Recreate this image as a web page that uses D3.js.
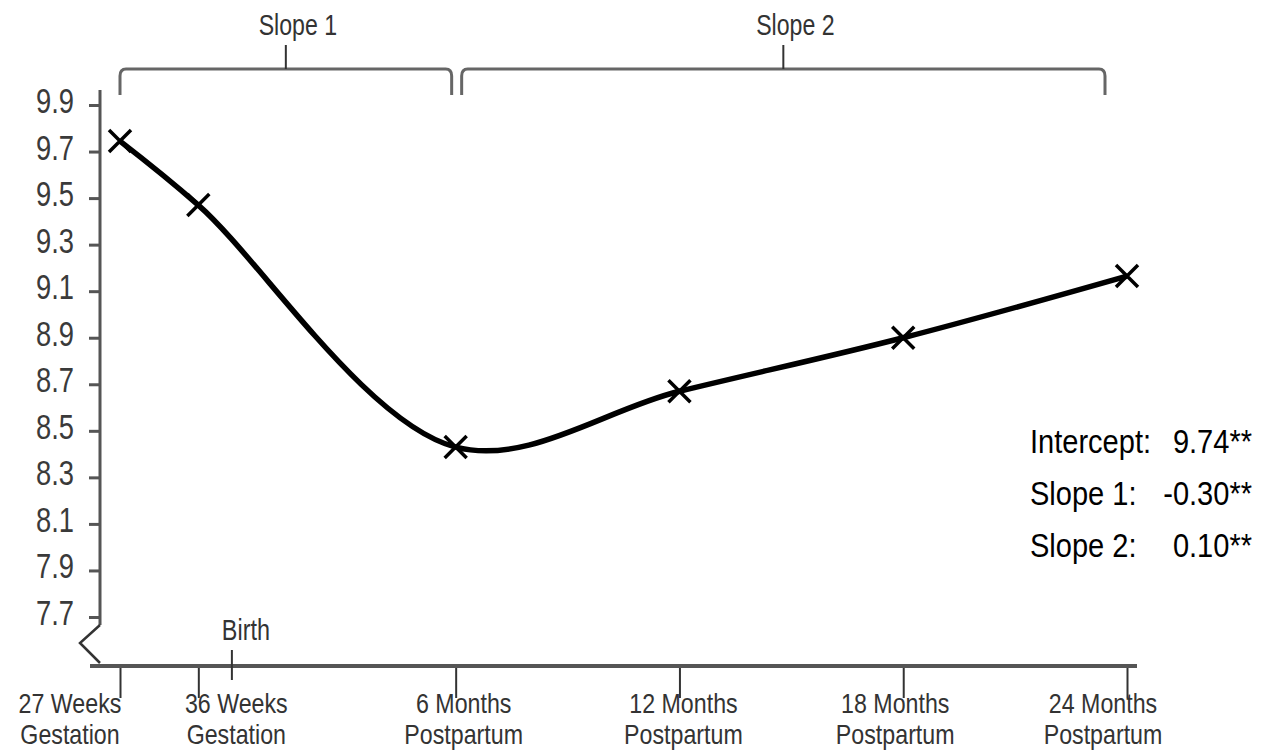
<!DOCTYPE html>
<html lang="en">
  <head>
    <meta charset="UTF-8" />
    <title>Slopes</title>
    <script src="https://d3js.org/d3.v7.min.js"></script>
    <style>
      body { margin: 0; background: #fff; }
      text { font-family: "Liberation Sans", Arial, sans-serif; }
    </style>
  </head>
  <body>

    <svg width="1261" height="753"></svg>

<script>

// data: months relative to birth
var occasions = ["27 Weeks|Gestation", "36 Weeks|Gestation", "6 Months|Postpartum",
                 "12 Months|Postpartum", "18 Months|Postpartum", "24 Months|Postpartum"];
var months = [-3, -0.9, 6, 12, 18, 24];
var values = [9.745, 9.47, 8.43, 8.67, 8.90, 9.165];
var yTicks = [7.7, 7.9, 8.1, 8.3, 8.5, 8.7, 8.9, 9.1, 9.3, 9.5, 9.7, 9.9];
var birth = 0;
var slopes = [["Slope 1", -3, 6], ["Slope 2", 6, 24]];
var stats = [["Intercept:", "9.74**"], ["Slope 1:", "-0.30**"], ["Slope 2:", "0.10**"]];

var svg = d3.select("svg");

var x = d3.scaleLinear().domain([-3, 24]).range([120, 1127]),
    y = d3.scaleLinear().domain([7.7, 9.9]).range([617, 105]);

var axisColor = "#555";

// y axis
var gy = svg.append("g").attr("transform", "translate(100,0)")
    .call(d3.axisLeft(y).tickValues(yTicks).tickSize(11).tickFormat(""));
gy.select(".domain").remove();
gy.selectAll(".tick line").attr("stroke", axisColor).attr("stroke-width", 3);

svg.append("line")
   .attr("x1", 100).attr("x2", 100)
   .attr("y1", y(9.9) - 15).attr("y2", y(7.7) + 8)
   .attr("stroke", axisColor).attr("stroke-width", 3);

svg.selectAll(".ylab")
   .data(yTicks)
   .enter().append("text")
   .attr("class", "ylab")
   .attr("transform", function(d) { return "translate(74," + (y(d) + 8) + ") scale(0.76,1)"; })
   .attr("text-anchor", "end")
   .attr("font-size", "36px")
   .attr("fill", "#3a3a3a")
   .text(function(d) { return d.toFixed(1); });

// axis break
svg.append("path")
   .attr("d", "M100," + (y(7.7) + 8) + "L80,643L100,663")
   .attr("fill", "none").attr("stroke", "#333").attr("stroke-width", 2.5);

// x axis
var gx = svg.append("g").attr("transform", "translate(0,666)")
    .call(d3.axisBottom(x).tickValues(months).tickSize(32).tickFormat(""));
gx.select(".domain").remove();
gx.selectAll(".tick line").attr("stroke", "#333").attr("stroke-width", 2);

svg.append("line")
   .attr("x1", 90).attr("x2", x(24) + 10)
   .attr("y1", 666).attr("y2", 666)
   .attr("stroke", axisColor).attr("stroke-width", 4);

var labelShift = [-50, 38, 8, 4, -8, -24];

var xl = svg.selectAll(".xlab")
   .data(occasions)
   .enter().append("text")
   .attr("class", "xlab")
   .attr("transform", function(d, i) {
       return "translate(" + (x(months[i]) + labelShift[i]) + ",713) scale(0.86,1)";
   })
   .attr("text-anchor", "middle").attr("font-size", "27px").attr("fill", "#333");

xl.append("tspan")
  .attr("x", 0).attr("dy", 0)
  .text(function(d) { return d.split("|")[0]; });
xl.append("tspan")
  .attr("x", 0).attr("dy", 31)
  .text(function(d) { return d.split("|")[1]; });

// birth marker
svg.append("line")
   .attr("x1", x(birth)).attr("x2", x(birth))
   .attr("y1", 650).attr("y2", 680)
   .attr("stroke", "#333").attr("stroke-width", 2);
svg.append("text")
   .attr("transform", "translate(" + (x(birth) + 14) + ",640) scale(0.78,1)")
   .attr("text-anchor", "middle").attr("font-size", "30px").attr("fill", "#333")
   .text("Birth");

// brackets
slopes.forEach(function(s, i) {
    var x0 = x(s[1]) + (i === 0 ? 0 : 6),
        x1 = x(s[2]) - (i === 0 ? 4 : 22),
        mid = (x0 + x1) / 2,
        top = 69, bot = 95;
    svg.append("path")
       .attr("d", "M" + x0 + "," + bot + "L" + x0 + ",76Q" + x0 + "," + top + " " + (x0 + 6) + "," + top +
                  "L" + (x1 - 6) + "," + top + "Q" + x1 + "," + top + " " + x1 + ",76L" + x1 + "," + bot)
       .attr("fill", "none").attr("stroke", "#666").attr("stroke-width", 3);
    svg.append("line")
       .attr("x1", mid).attr("x2", mid).attr("y1", top).attr("y2", 45)
       .attr("stroke", "#333").attr("stroke-width", 2);
    svg.append("text")
       .attr("transform", "translate(" + (mid + 12) + ",35) scale(0.77,1)")
       .attr("text-anchor", "middle").attr("font-size", "30px").attr("fill", "#333")
       .text(s[0]);
});

// curve
var pts = months.map(function(m, i) { return [x(m), y(values[i])]; });

svg.append("path")
   .datum(pts)
   .attr("d", d3.line().curve(d3.curveCatmullRom.alpha(0.5)))
   .attr("fill", "none").attr("stroke", "#000").attr("stroke-width", 5.5);

svg.selectAll(".mark")
   .data(pts)
   .enter().append("path")
   .attr("class", "mark")
   .attr("d", function(p) {
       var r = 11;
       return "M" + (p[0] - r) + "," + (p[1] - r) + "L" + (p[0] + r) + "," + (p[1] + r) +
              "M" + (p[0] - r) + "," + (p[1] + r) + "L" + (p[0] + r) + "," + (p[1] - r);
   })
   .attr("stroke", "#000").attr("stroke-width", 3.5);

// stats
var st = svg.selectAll(".stat")
   .data(stats)
   .enter().append("g")
   .attr("class", "stat")
   .attr("transform", function(d, i) { return "translate(0," + (453 + i * 52) + ")"; });
st.append("text")
  .attr("transform", "translate(1030,0) scale(0.88,1)")
  .attr("font-size", "33px").attr("fill", "#000")
  .text(function(d) { return d[0]; });
st.append("text")
  .attr("transform", "translate(1252,0) scale(0.88,1)")
  .attr("text-anchor", "end")
  .attr("font-size", "33px").attr("fill", "#000")
  .text(function(d) { return d[1]; });

</script>

  </body>
</html>
